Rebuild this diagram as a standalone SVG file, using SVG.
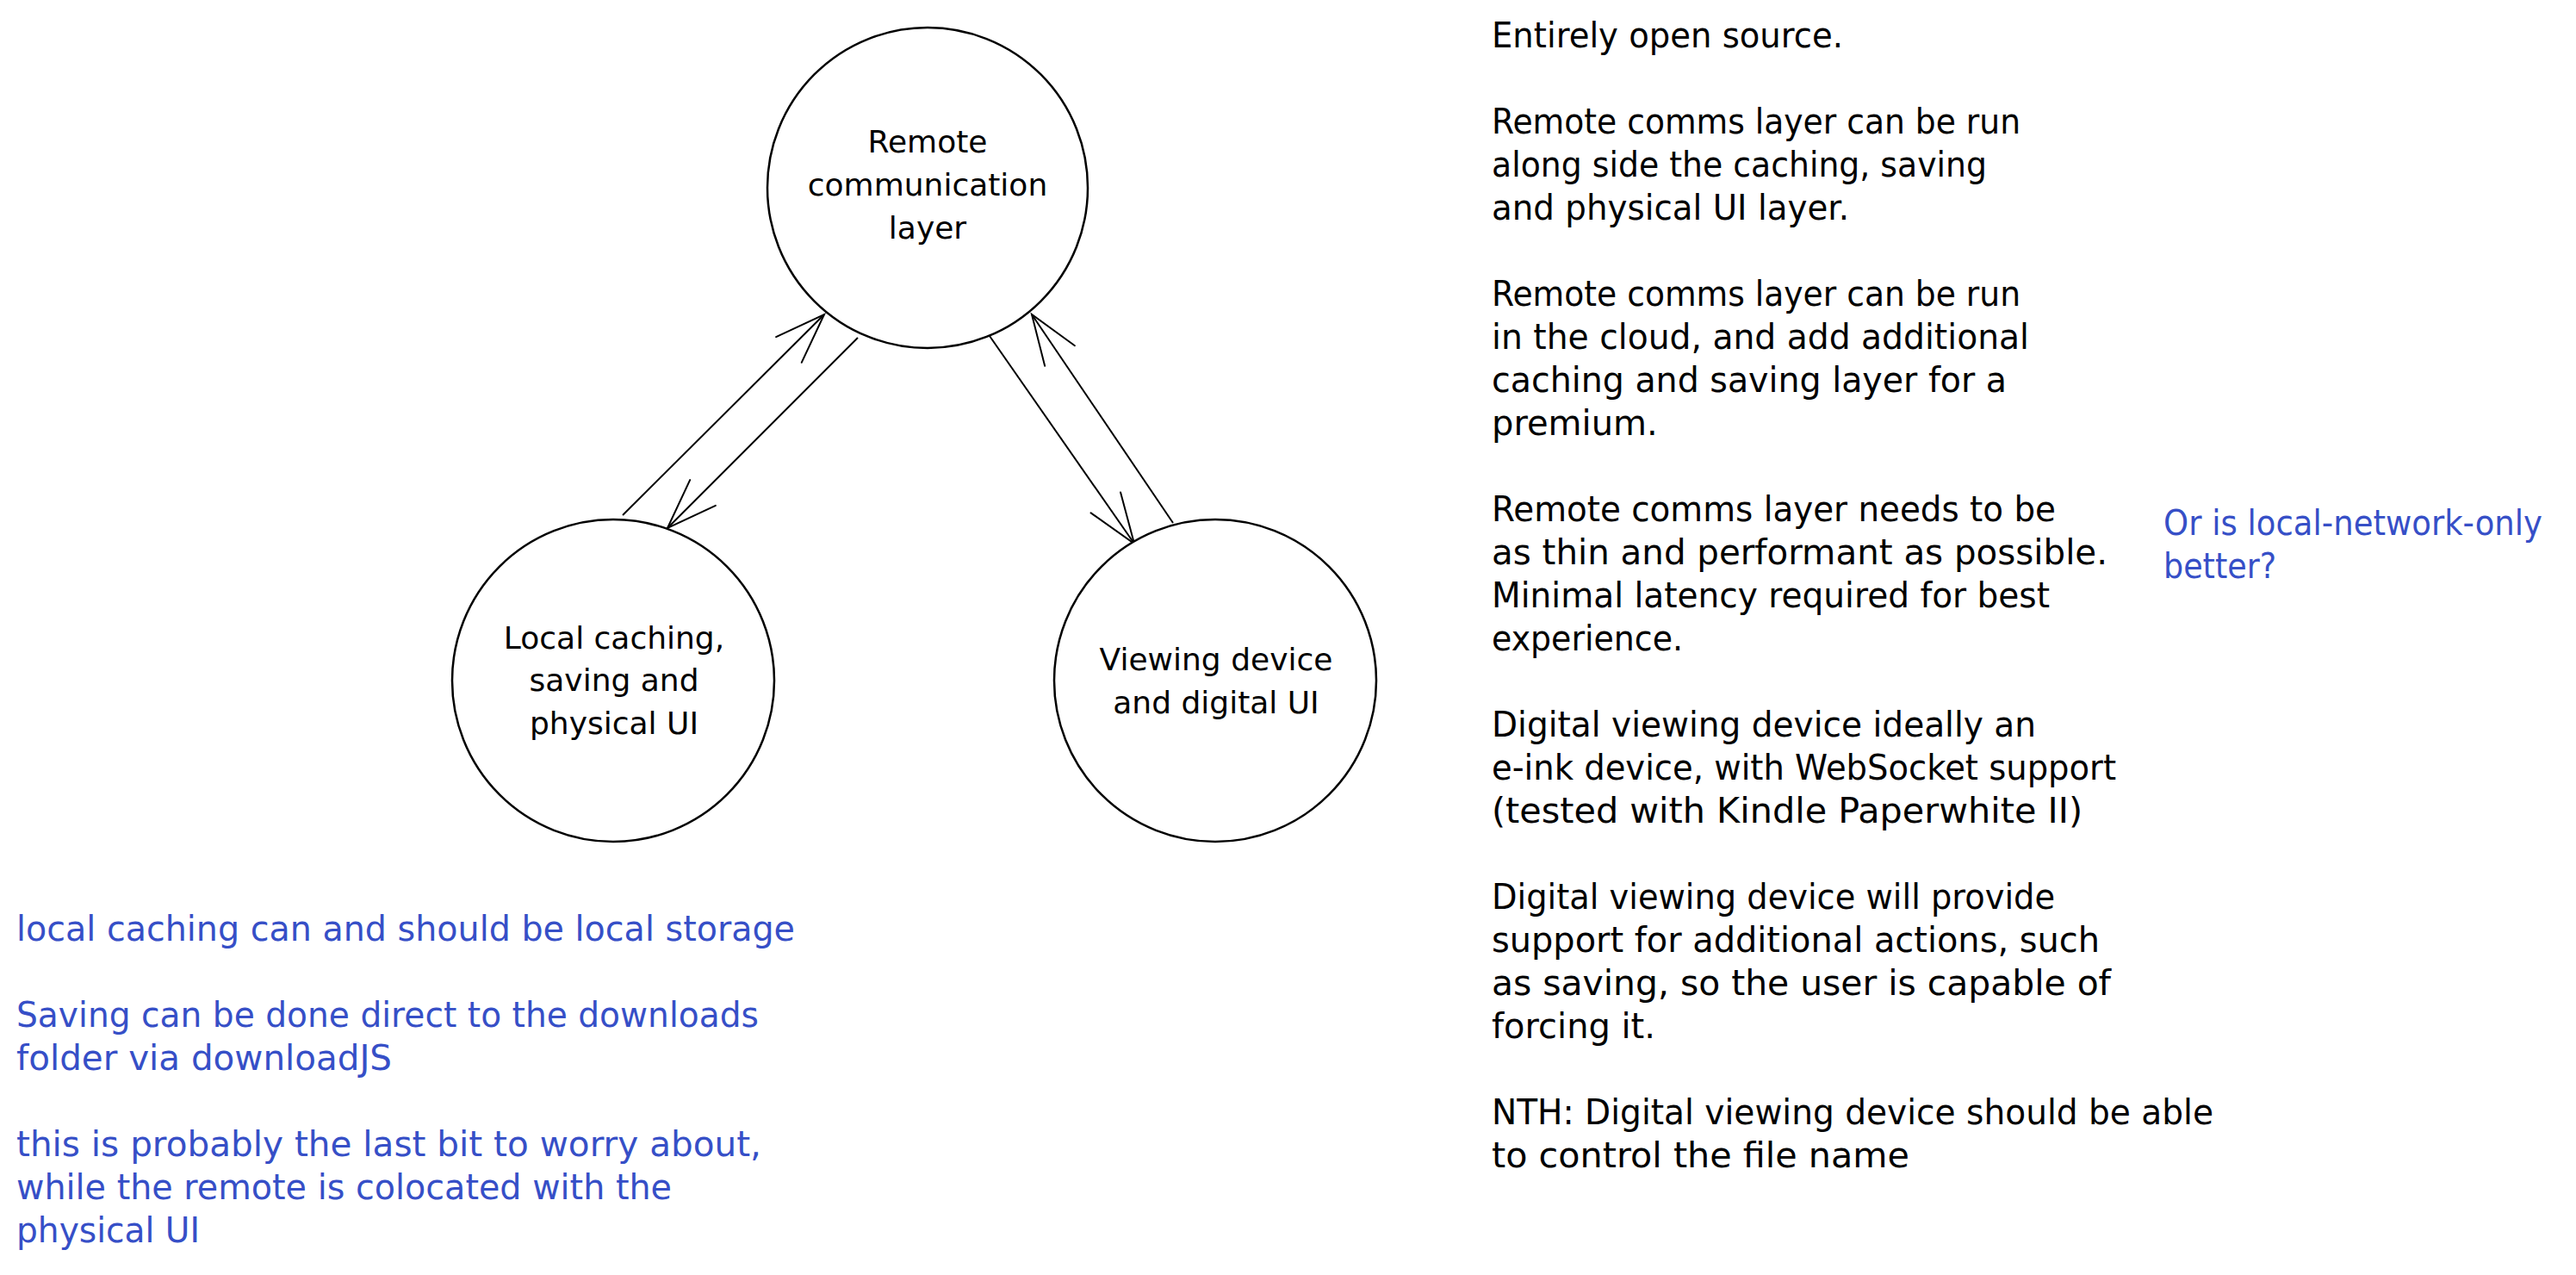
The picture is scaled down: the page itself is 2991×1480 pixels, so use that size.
<svg xmlns="http://www.w3.org/2000/svg" width="2991" height="1480" viewBox="0 0 2991 1480">
  <style>
    .node { fill: #ffffff; stroke: #000000; stroke-width: 2.5; }
    .lbl { font-family: "DejaVu Sans", "Liberation Sans", sans-serif; font-size: 36px; fill: #000000; text-anchor: middle; }
    .note { font-family: "DejaVu Sans", "Liberation Sans", sans-serif; font-size: 40px; fill: #000000; }
    .blue { fill: #364fc7; }
    .edge { fill: none; stroke: #000000; stroke-width: 2; marker-end: url(#arrow); }
  </style>
  <defs>
    <marker id="arrow" markerUnits="userSpaceOnUse" viewBox="-70 -35 80 70" markerWidth="80" markerHeight="70" refX="0" refY="0" orient="auto" overflow="visible">
      <path d="M -58 -21 L 0 0 L -58 21" fill="none" stroke="#000000" stroke-width="2" stroke-linecap="round"/>
    </marker>
  </defs>
  <rect width="2991" height="1480" fill="#ffffff"/>

  <g id="connectors">
    <path class="edge" d="M 723 598 L 957 365"/>
    <path class="edge" d="M 996 392 L 775 613"/>
    <path class="edge" d="M 1149 390 L 1317 631"/>
    <path class="edge" d="M 1362 607 L 1198 365"/>
  </g>

  <g id="node-remote">
    <circle class="node" cx="1077" cy="218" r="186"/>
    <text class="lbl"><tspan x="1077" y="177">Remote</tspan><tspan x="1077" y="227">communication</tspan><tspan x="1077" y="277">layer</tspan></text>
  </g>

  <g id="node-local">
    <circle class="node" cx="712" cy="790" r="187"/>
    <text class="lbl"><tspan x="713" y="753">Local caching,</tspan><tspan x="713" y="802">saving and</tspan><tspan x="713" y="852">physical UI</tspan></text>
  </g>

  <g id="node-viewing">
    <circle class="node" cx="1411" cy="790" r="187"/>
    <text class="lbl"><tspan x="1412" y="778">Viewing device</tspan><tspan x="1412" y="828">and digital UI</tspan></text>
  </g>

  <g id="notes-right">
    <text class="note" x="1732" y="55" textLength="408" lengthAdjust="spacingAndGlyphs">Entirely open source.</text>
    <text class="note" x="1732" y="155" textLength="614" lengthAdjust="spacingAndGlyphs">Remote comms layer can be run</text>
    <text class="note" x="1732" y="205" textLength="575" lengthAdjust="spacingAndGlyphs">along side the caching, saving</text>
    <text class="note" x="1732" y="255" textLength="415" lengthAdjust="spacingAndGlyphs">and physical UI layer.</text>
    <text class="note" x="1732" y="355" textLength="614" lengthAdjust="spacingAndGlyphs">Remote comms layer can be run</text>
    <text class="note" x="1732" y="405" textLength="624" lengthAdjust="spacingAndGlyphs">in the cloud, and add additional</text>
    <text class="note" x="1732" y="455" textLength="598" lengthAdjust="spacingAndGlyphs">caching and saving layer for a</text>
    <text class="note" x="1732" y="505">premium.</text>
    <text class="note" x="1732" y="605" textLength="655" lengthAdjust="spacingAndGlyphs">Remote comms layer needs to be</text>
    <text class="note" x="1732" y="655" textLength="715" lengthAdjust="spacingAndGlyphs">as thin and performant as possible.</text>
    <text class="note" x="1732" y="705" textLength="648" lengthAdjust="spacingAndGlyphs">Minimal latency required for best</text>
    <text class="note" x="1732" y="755" textLength="222" lengthAdjust="spacingAndGlyphs">experience.</text>
    <text class="note" x="1732" y="855" textLength="632" lengthAdjust="spacingAndGlyphs">Digital viewing device ideally an</text>
    <text class="note" x="1732" y="905" textLength="725" lengthAdjust="spacingAndGlyphs">e-ink device, with WebSocket support</text>
    <text class="note" x="1732" y="955" textLength="686" lengthAdjust="spacingAndGlyphs">(tested with Kindle Paperwhite II)</text>
    <text class="note" x="1732" y="1055" textLength="654" lengthAdjust="spacingAndGlyphs">Digital viewing device will provide</text>
    <text class="note" x="1732" y="1105" textLength="706" lengthAdjust="spacingAndGlyphs">support for additional actions, such</text>
    <text class="note" x="1732" y="1155" textLength="719" lengthAdjust="spacingAndGlyphs">as saving, so the user is capable of</text>
    <text class="note" x="1732" y="1205" textLength="190" lengthAdjust="spacingAndGlyphs">forcing it.</text>
    <text class="note" x="1732" y="1305" textLength="838" lengthAdjust="spacingAndGlyphs">NTH: Digital viewing device should be able</text>
    <text class="note" x="1732" y="1355" textLength="485" lengthAdjust="spacingAndGlyphs">to control the file name</text>
  </g>

  <g id="note-network">
    <text class="note blue" x="2512" y="621" textLength="440" lengthAdjust="spacingAndGlyphs">Or is local-network-only</text>
    <text class="note blue" x="2512" y="671" textLength="131" lengthAdjust="spacingAndGlyphs">better?</text>
  </g>

  <g id="notes-left">
    <text class="note blue" x="19" y="1092" textLength="904" lengthAdjust="spacingAndGlyphs">local caching can and should be local storage</text>
    <text class="note blue" x="19" y="1192" textLength="862" lengthAdjust="spacingAndGlyphs">Saving can be done direct to the downloads</text>
    <text class="note blue" x="19" y="1242" textLength="436" lengthAdjust="spacingAndGlyphs">folder via downloadJS</text>
    <text class="note blue" x="19" y="1342" textLength="865" lengthAdjust="spacingAndGlyphs">this is probably the last bit to worry about,</text>
    <text class="note blue" x="19" y="1392" textLength="761" lengthAdjust="spacingAndGlyphs">while the remote is colocated with the</text>
    <text class="note blue" x="19" y="1442" textLength="213" lengthAdjust="spacingAndGlyphs">physical UI</text>
  </g>
</svg>
